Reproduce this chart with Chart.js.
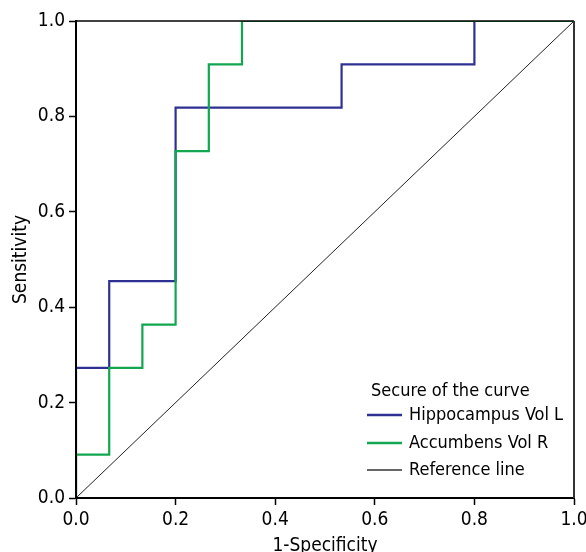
<!DOCTYPE html>
<html>
<head>
<meta charset="utf-8">
<script src="https://cdn.jsdelivr.net/npm/chart.js@4.4.1/dist/chart.umd.min.js"></script>
<style>
  body { margin: 0; background: #fff; }
  #wrap { width: 586px; height: 552px; }
</style>
</head>
<body>
<div id="wrap"><canvas id="rocChart" width="586" height="552"></canvas></div>
<script>
// ROC points (1-specificity, sensitivity)
var hippoFpr = [0, 0, 0.0667, 0.0667, 0.2, 0.2, 0.5333, 0.5333, 0.8, 0.8, 1];
var hippoTpr = [0, 0.2727, 0.2727, 0.4545, 0.4545, 0.8182, 0.8182, 0.9091, 0.9091, 1, 1];
var accumFpr = [0, 0, 0.0667, 0.0667, 0.1333, 0.1333, 0.2, 0.2, 0.2667, 0.2667, 0.3333, 0.3333, 1];
var accumTpr = [0, 0.0909, 0.0909, 0.2727, 0.2727, 0.3636, 0.3636, 0.7273, 0.7273, 0.9091, 0.9091, 1, 1];
var refX = [0, 1];
var refY = [0, 1];
var tickValues = [0, 0.2, 0.4, 0.6, 0.8, 1.0];

var FONT = "'Liberation Sans Narrow', 'Arial Narrow', 'DejaVu Sans Condensed', sans-serif";
var FSIZE = 19;

function pts(xs, ys){
    return xs.map((x, i) => ({x: x, y: ys[i]}));
}

// legend inside the plot (bottom right) + frame round the plot
var innerLegend = {
    id: 'innerLegend',
    afterDraw: function(chart){
        var ctx = chart.ctx;
        var a = chart.chartArea;
        ctx.save();
        // axes again on top of the curves
        ctx.strokeStyle = '#000';
        ctx.lineWidth = 2;
        ctx.beginPath();
        ctx.moveTo(a.left, a.top);
        ctx.lineTo(a.left, a.bottom);
        ctx.lineTo(a.right, a.bottom);
        ctx.stroke();
        ctx.lineWidth = 1.5;
        ctx.beginPath();
        ctx.moveTo(a.left, a.top);
        ctx.lineTo(a.right, a.top);
        ctx.stroke();
        ctx.strokeStyle = '#333';
        ctx.lineWidth = 2;
        ctx.beginPath();
        ctx.moveTo(a.right, a.top);
        ctx.lineTo(a.right, a.bottom);
        ctx.stroke();

        ctx.font = '18px ' + FONT;
        ctx.fillStyle = '#000';
        ctx.textBaseline = 'middle';
        ctx.textAlign = 'left';
        ctx.fillText('Secure of the curve', a.right - 203, a.bottom - 107);
        var rows = [-83, -55, -28];
        var items = [chart.data.datasets[1], chart.data.datasets[0], chart.data.datasets[2]];
        items.forEach(function(ds, i){
            var y = a.bottom + rows[i];
            ctx.strokeStyle = ds.legendColor;
            ctx.lineWidth = ds.legendWidth;
            ctx.beginPath();
            ctx.moveTo(a.right - 207, y);
            ctx.lineTo(a.right - 172, y);
            ctx.stroke();
            ctx.fillText(ds.label, a.right - 165, y);
        });
        ctx.restore();
    }
};

var ctx = document.getElementById('rocChart').getContext('2d');
var chart = new Chart(ctx, {
    type: 'scatter',
    data: {
        datasets: [{
            label: 'Accumbens Vol R',
            data: pts(accumFpr, accumTpr),
            showLine: true,
            borderColor: '#12a650',
            legendColor: '#12a650',
            legendWidth: 2.5,
            borderWidth: 2.2,
            pointRadius: 0,
            order: 0
        }, {
            label: 'Hippocampus Vol L',
            data: pts(hippoFpr, hippoTpr),
            showLine: true,
            borderColor: '#2e3192',
            legendColor: '#2e3192',
            legendWidth: 2.5,
            borderWidth: 2.2,
            pointRadius: 0,
            order: 1
        }, {
            label: 'Reference line',
            data: pts(refX, refY),
            showLine: true,
            borderColor: '#222',
            legendColor: '#666',
            legendWidth: 2,
            borderWidth: 1,
            pointRadius: 0,
            order: 2
        }]
    },
    options: {
        responsive: false,
        animation: false,
        layout: {padding: {top: 21, right: 12, left: 0, bottom: 0}},
        plugins: {legend: {display: false}, tooltip: {enabled: false}},
        scales: {
            x: {
                type: 'linear',
                min: 0,
                max: 1,
                afterBuildTicks: function(s){ s.ticks = tickValues.map(v => ({value: v})); },
                afterFit: function(s){
                    s.height = 54;
                    s.paddingLeft = 0;
                    s.paddingRight = 0;
                },
                ticks: {
                    padding: 5.5,
                    color: '#000',
                    font: {family: FONT, size: FSIZE, lineHeight: 1},
                    callback: v => v.toFixed(1)
                },
                grid: {drawOnChartArea: false, drawTicks: true, tickLength: 7, tickColor: '#000', tickWidth: 1.5},
                border: {display: true, color: '#000', width: 2},
                title: {
                    display: true,
                    text: '1-Specificity',
                    color: '#000',
                    padding: {top: 0, bottom: -4},
                    font: {family: FONT, size: FSIZE, lineHeight: 1}
                }
            },
            y: {
                type: 'linear',
                min: 0,
                max: 1,
                afterBuildTicks: function(s){ s.ticks = tickValues.map(v => ({value: v})); },
                afterFit: function(s){
                    s.width = 76;
                    s.paddingTop = 0;
                    s.paddingBottom = 0;
                },
                ticks: {
                    padding: 4,
                    color: '#000',
                    font: {family: FONT, size: FSIZE, lineHeight: 1},
                    callback: v => v.toFixed(1)
                },
                grid: {drawOnChartArea: false, drawTicks: true, tickLength: 7, tickColor: '#000', tickWidth: 1.5},
                border: {display: true, color: '#000', width: 2},
                title: {
                    display: true,
                    text: 'Sensitivity',
                    color: '#000',
                    padding: {top: 12, bottom: 0},
                    font: {family: FONT, size: FSIZE, lineHeight: 1}
                }
            }
        }
    },
    plugins: [innerLegend]
});
</script>
</body>
</html>
